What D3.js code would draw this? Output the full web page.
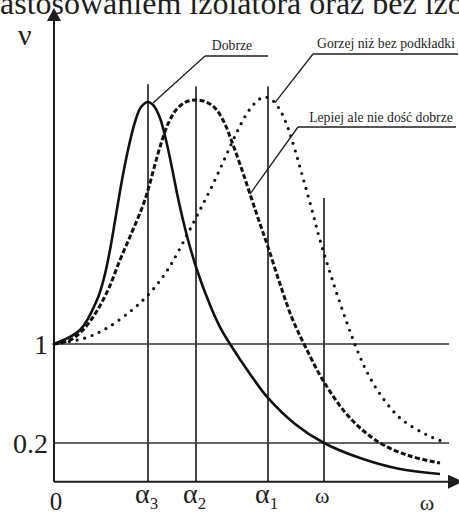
<!DOCTYPE html>
<html><head><meta charset="utf-8">
<script src="https://cdn.jsdelivr.net/npm/d3@7"></script>
<style>html,body{margin:0;padding:0;background:#fff;overflow:hidden}</style>
</head><body>
<svg id="c" width="459" height="515"></svg>
<script>
// ---- data (schematic ν vs ω curves) ----
const solidX = [0,6.5,10.75,12.5,14,15.5,17,18.5,20.25,21.75,23.5,25,26.5,28,29.5,31,33.25,35.75,39,41.5,44,49,53.5,60.25,67.5,76.5,86.5,96.5];
const solidV = [1,1.113,1.356,1.533,1.76,2.042,2.325,2.568,2.794,2.915,2.956,2.923,2.826,2.648,2.422,2.18,1.873,1.598,1.315,1.137,1.0,0.758,0.564,0.354,0.2,0.079,-0.01,-0.051];
const dashX  = [0,4,7,10.25,13.5,16.5,19.5,22,23.5,25,26.5,28.5,30.5,33,35.5,38,40.25,42.5,44.5,46.75,49,51.25,53.5,56.5,59.5,62.75,67.5,74,81.5,89,96.5];
const dashV  = [1,1.032,1.105,1.242,1.436,1.679,1.905,2.099,2.244,2.422,2.592,2.778,2.891,2.956,2.972,2.956,2.907,2.794,2.632,2.43,2.212,1.994,1.784,1.485,1.21,0.984,0.693,0.402,0.2,0.095,0.038];
const dotX   = [0,7.75,13.25,19.5,23.5,27,29.75,33.25,36.5,39.75,42.75,45.5,48,50.25,52.5,54.5,56.5,58.5,60.25,62.25,64.5,66.5,70,73.25,76,78.5,81.5,86.5,93.25,98.25];
const dotV   = [1,1.048,1.129,1.275,1.396,1.533,1.671,1.881,2.083,2.293,2.503,2.697,2.851,2.947,2.996,2.972,2.891,2.745,2.568,2.341,2.083,1.84,1.477,1.17,0.935,0.758,0.596,0.402,0.265,0.2];
const yTickValues = [1, 0.2];
const yTickLabels = ["1", "0.2"];
const markX      = [23.5, 35.5, 53.5, 67.5];
const markTopV   = [3.1, 3.08, 3.08, 2.18];
const markLabels = [["α","3"],["α","2"],["α","1"],["ω",""]];
const annTexts   = ["Dobrze", "Gorzej niż bez podkładki", "Lepiej ale nie dość dobrze"];
const annAnchorX = [24.75, 55.25, 49];
const annAnchorV = [2.947, 2.95, 2.212];
const titleText  = "astosowaniem izolatora oraz bez izo";

// ---- scales ----
const x = d3.scaleLinear().domain([0, 100]).range([54, 454]);
const y = d3.scaleLinear().domain([0.2, 1]).range([443, 344]);
const yAxisMin = -0.113, xLineEnd = 98.75;

const svg = d3.select("#c");
const ink = "#1e1e1e", grid = "#333";
const serif = "'Liberation Serif','Times New Roman',serif";

// title (cropped)
svg.append("text").attr("x", 0).attr("y", 14).attr("font-family", serif)
  .attr("font-size", 32).attr("fill", ink).text(titleText);

// horizontal reference lines
svg.selectAll(".hl").data(yTickValues).join("line")
  .attr("x1", x(0)).attr("x2", x(xLineEnd))
  .attr("y1", d => y(d)).attr("y2", d => y(d))
  .attr("stroke", grid).attr("stroke-width", 1.5);
svg.selectAll(".yl").data(yTickValues).join("text")
  .attr("x", 48).attr("y", d => y(d) + 10).attr("text-anchor", "end")
  .attr("font-family", serif).attr("font-size", 28).attr("fill", ink)
  .text((d, i) => yTickLabels[i]);

// vertical marker lines
svg.selectAll(".vl").data(markX).join("line")
  .attr("x1", d => x(d)).attr("x2", d => x(d))
  .attr("y1", y(yAxisMin)).attr("y2", (d, i) => y(markTopV[i]))
  .attr("stroke", grid).attr("stroke-width", 1.8);
const ml = svg.selectAll(".ml").data(markX).join("text")
  .attr("x", d => x(d) - 13).attr("y", 503)
  .attr("font-family", serif).attr("font-size", 28).attr("fill", ink);
ml.append("tspan").text((d, i) => markLabels[i][0]);
ml.append("tspan").attr("dy", 6).attr("font-size", 17).text((d, i) => markLabels[i][1]);
ml.filter((d, i) => markLabels[i][1] === "").attr("x", d => x(d) - 9).attr("font-size", 22);

// axes
svg.append("line").attr("x1", x(0)).attr("x2", x(0)).attr("y1", y(yAxisMin)).attr("y2", 18)
  .attr("stroke", ink).attr("stroke-width", 2);
svg.append("path").attr("d", `M${x(0)},8 L${x(0)-7},21 L${x(0)+7},21 Z`).attr("fill", ink);
svg.append("line").attr("x1", x(0)).attr("x2", 452).attr("y1", y(yAxisMin)).attr("y2", y(yAxisMin))
  .attr("stroke", ink).attr("stroke-width", 2);
svg.append("path").attr("d", `M463,${y(yAxisMin)} L448,${y(yAxisMin)-7} L448,${y(yAxisMin)+7} Z`).attr("fill", ink);
svg.append("text").attr("x", x(0) + 2).attr("y", 510).attr("text-anchor", "middle")
  .attr("font-family", serif).attr("font-size", 25).attr("fill", ink).text("0");
svg.append("text").attr("x", 427).attr("y", 510).attr("text-anchor", "middle")
  .attr("font-family", serif).attr("font-size", 22).attr("fill", ink).text("ω");
svg.append("text").attr("x", 18).attr("y", 45)
  .attr("font-family", serif).attr("font-size", 30).attr("fill", ink).text("ν");

// curves
const line = d3.line().x(d => x(d[0])).y(d => y(d[1])).curve(d3.curveCatmullRom.alpha(0.5));
const zip = (a, b) => a.map((v, i) => [v, b[i]]);
svg.append("path").attr("d", line(zip(dotX, dotV))).attr("fill", "none")
  .attr("stroke", "#111").attr("stroke-width", 3.2).attr("stroke-linecap", "round")
  .attr("stroke-dasharray", "0 7.8");
svg.append("path").attr("d", line(zip(dashX, dashV))).attr("fill", "none")
  .attr("stroke", "#111").attr("stroke-width", 3).attr("stroke-dasharray", "5 2.5");
svg.append("path").attr("d", line(zip(solidX, solidV))).attr("fill", "none")
  .attr("stroke", "#111").attr("stroke-width", 2.6);

// annotations
const annTextPos = [[232, 50, 205, 268, 56], [386, 48, 313, 458, 54], [381, 122, 298, 456, 127]];
annTexts.forEach((t, i) => {
  const [tx, ty, ux1, ux2, uy] = annTextPos[i];
  svg.append("text").attr("x", tx).attr("y", ty).attr("text-anchor", "middle")
    .attr("font-family", serif).attr("font-size", 13.7).attr("fill", ink).text(t);
  svg.append("line").attr("x1", ux1).attr("x2", ux2).attr("y1", uy).attr("y2", uy)
    .attr("stroke", ink).attr("stroke-width", 1.3);
  svg.append("line").attr("x1", ux1).attr("y1", uy)
    .attr("x2", x(annAnchorX[i])).attr("y2", y(annAnchorV[i]))
    .attr("stroke", ink).attr("stroke-width", 1.3);
});
</script>
</body></html>
